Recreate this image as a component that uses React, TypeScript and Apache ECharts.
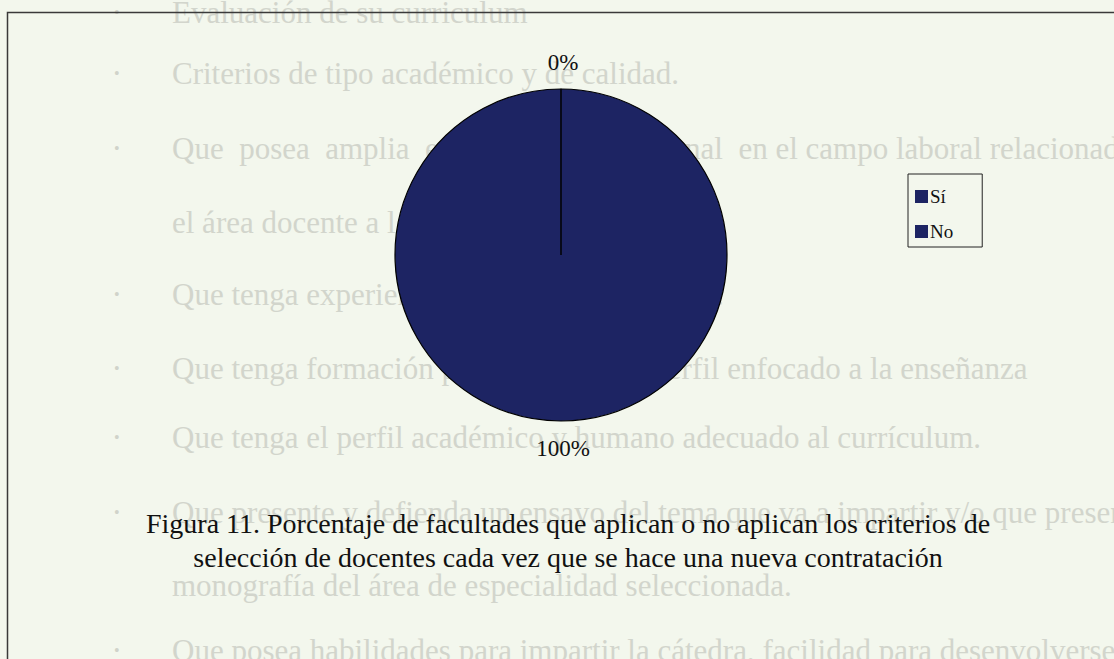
import React, { useEffect, useRef } from "react";
import * as echarts from "echarts";

const categories = ["Sí", "No"];
const values = [0, 100];
const sliceColors = ["#1d2463", "#1d2463"];
const captionLines = [
  "Figura 11. Porcentaje de facultades que aplican o no aplican los criterios de",
  "selección de docentes cada vez que se hace una nueva contratación",
];
// faint show-through text from the other side of the scanned page
const ghostTexts = [
  "Evaluación de su curriculum",
  "Criterios de tipo académico y de calidad.",
  "Que  posea  amplia  experiencia  profesional  en el campo laboral relacionado",
  "el área docente a la que se aspira.",
  "Que tenga experiencia docente universitaria.",
  "Que tenga formación pedagógica y un perfil enfocado a la enseñanza",
  "Que tenga el perfil académico y humano adecuado al currículum.",
  "Que presente y defienda un ensayo del tema que va a impartir y/o que presente",
  "monografía del área de especialidad seleccionada.",
  "Que posea habilidades para impartir la cátedra, facilidad para desenvolverse",
];
const ghostRows = [12, 73, 148, 222, 294, 368, 437, 512, 585, 650];
const ghostBullets = [true, true, true, false, true, true, true, true, false, true];

const SERIF = "'Liberation Serif', 'DejaVu Serif', serif";
const CX = 561;
const CY = 255;
const R = 166;

export default function App() {
  const ref = useRef<HTMLDivElement>(null);
  useEffect(() => {
    document.body.style.margin = "0";
    const chart = echarts.init(ref.current!, null, { renderer: "svg" });
    const ghost: any[] = [];
    ghostTexts.forEach((t, i) => {
      const y = ghostRows[i];
      if (ghostBullets[i]) {
        ghost.push({
          type: "text", x: 114, y, silent: true, z: -10,
          style: { text: "•", fill: "#d0d3ca", font: `16px ${SERIF}`, verticalAlign: "middle" },
        });
      }
      ghost.push({
        type: "text", x: 172, y, silent: true, z: -10,
        style: { text: t, fill: "#d2d5cc", font: `31px ${SERIF}`, verticalAlign: "middle" },
      });
    });
    chart.setOption({
      animation: false,
      backgroundColor: "#f3f7ed",
      title: {
        text: captionLines.join("\n"),
        left: 563,
        top: 501,
        textAlign: "center",
        textStyle: {
          fontFamily: SERIF,
          fontSize: 28,
          fontWeight: "normal",
          color: "#111",
          lineHeight: 34,
        },
      },
      legend: {
        orient: "vertical",
        left: 908,
        top: 174,
        padding: [13, 29, 6, 7],
        itemGap: 16,
        itemWidth: 13,
        itemHeight: 13,
        icon: "rect",
        borderColor: "#222",
        borderWidth: 1,
        data: categories,
        textStyle: { fontFamily: SERIF, fontSize: 19, color: "#111", padding: [0, 0, 0, -3] },
        itemStyle: { borderWidth: 0 },
      },
      graphic: [
        ...ghost,
        {
          type: "line", silent: true, z: 100,
          shape: { x1: CX, y1: CY - R, x2: CX, y2: CY },
          style: { stroke: "#000", lineWidth: 1.5 },
        },
        {
          type: "rect", left: 5, top: 10, silent: true, z: 100,
          shape: { width: 1200, height: 800 },
          style: { fill: "none", stroke: "#3a3a3a", lineWidth: 1.5 },
        },
      ],
      series: [
        {
          type: "pie",
          center: [CX, CY],
          radius: R,
          startAngle: 90,
          clockwise: true,
          stillShowZeroSum: true,
          avoidLabelOverlap: false,
          color: sliceColors,
          itemStyle: { borderColor: "#000", borderWidth: 1.2 },
          label: {
            show: true,
            position: "outside",
            formatter: "{d}%",
            fontFamily: SERIF,
            fontSize: 23,
            color: "#111",
          },
          labelLine: { show: false, length: 12, length2: 0 },
          labelLayout: (p: any) => ({
            x: CX + 2,
            y: p.dataIndex === 0 ? CY - R - 27 : CY + R + 27,
            align: "center",
            verticalAlign: "middle",
          }),
          emphasis: { disabled: true },
          data: categories.map((c, i) => ({ name: c, value: values[i] })),
        },
      ],
    });
    return () => chart.dispose();
  }, []);
  return <div ref={ref} style={{ width: 1114, height: 659 }} />;
}
